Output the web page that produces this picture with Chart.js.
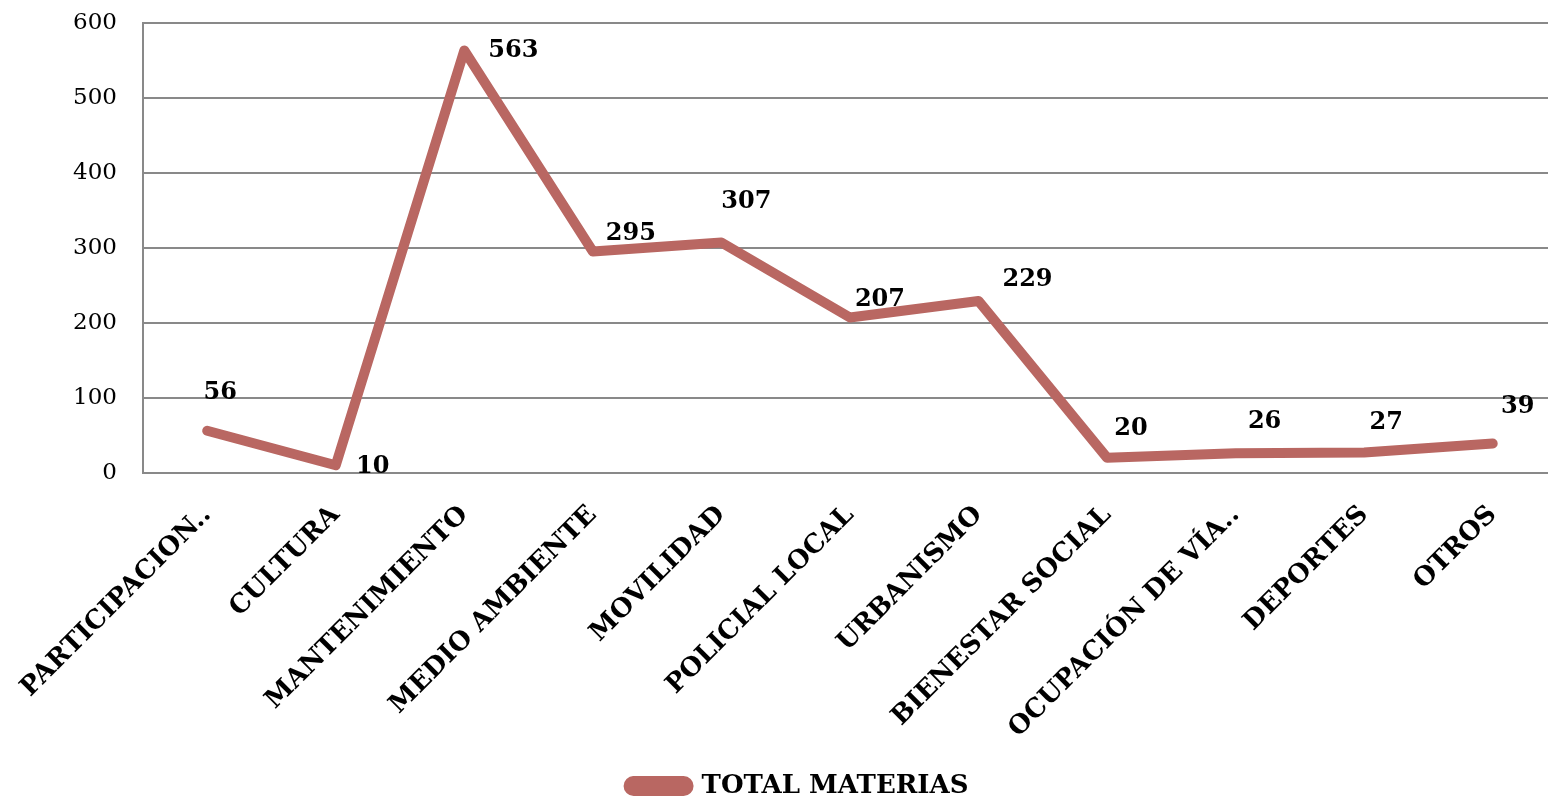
<!DOCTYPE html>
<html>
<head>
<meta charset="utf-8">
<script src="https://cdn.jsdelivr.net/npm/chart.js@4.4.1/dist/chart.umd.min.js"></script>
<style>
    html, body { margin: 0; padding: 0; background: #fff; overflow: hidden; }
    #wrap { position: relative; width: 1548px; height: 799px; overflow: hidden; }
    #materias-chart { position: absolute; left: -8px; top: -17px; }
</style>
</head>
<body>
<div id="wrap"><canvas id="materias-chart" width="1565" height="816"></canvas></div>
<script>
// categorias y valores
const categories = ['PARTICIPACION..', 'CULTURA', 'MANTENIMIENTO', 'MEDIO AMBIENTE', 'MOVILIDAD',
    'POLICIAL LOCAL', 'URBANISMO', 'BIENESTAR SOCIAL', 'OCUPACIÓN DE VÍA..', 'DEPORTES', 'OTROS'];
const totalMaterias = [56, 10, 563, 295, 307, 207, 229, 20, 26, 27, 39];
const yTicks = [0, 100, 200, 300, 400, 500, 600];

// desplazamiento de cada etiqueta respecto a su punto (solo estilo)
const labelNudge = [[13, -38], [37, 1], [49, 0], [38, -18], [25, -41], [30, -18],
    [49, -21], [24, -29], [29, -32], [22, -30], [25, -37]];

const lineColor = '#B96762';
const fontFamily = '"DejaVu Serif", "Liberation Serif", serif';

const valueLabels = {
    id: 'valueLabels',
    afterDatasetsDraw(chart) {
        const ctx = chart.ctx;
        const meta = chart.getDatasetMeta(0);
        ctx.save();
        ctx.font = 'bold 24px ' + fontFamily;
        ctx.fillStyle = '#000';
        ctx.textAlign = 'center';
        ctx.textBaseline = 'middle';
        meta.data.forEach((pt, i) => {
            const n = labelNudge[i] || [25, -30];
            ctx.fillText(String(totalMaterias[i]), pt.x + n[0], pt.y + n[1]);
        });
        ctx.restore();
    }
};

new Chart(document.getElementById('materias-chart').getContext('2d'), {
    type: 'line',
    data: {
        labels: categories,
        datasets: [{
            label: 'TOTAL MATERIAS',
            data: totalMaterias,
            borderColor: lineColor,
            backgroundColor: lineColor,
            borderWidth: 10,
            borderCapStyle: 'round',
            borderJoinStyle: 'round',
            pointRadius: 0,
            tension: 0
        }]
    },
    options: {
        responsive: false,
        animation: false,
        layout: { padding: { left: 48, top: 0, right: 0, bottom: -10 } },
        plugins: {
            legend: {
                position: 'bottom',
                labels: {
                    boxWidth: 60,
                    boxHeight: 10,
                    useBorderRadius: true,
                    borderRadius: 5,
                    padding: 2,
                    color: '#000',
                    font: { family: fontFamily, size: 26, weight: 'bold' }
                }
            },
            tooltip: { enabled: false }
        },
        scales: {
            x: {
                offset: true,
                grid: { display: false, drawTicks: false },
                border: { display: false },
                ticks: {
                    minRotation: 45,
                    maxRotation: 45,
                    autoSkip: false,
                    padding: 27,
                    color: '#000',
                    font: { family: fontFamily, size: 26, weight: 'bold' }
                }
            },
            y: {
                min: 0,
                max: 600,
                afterBuildTicks: axis => { axis.ticks = yTicks.map(v => ({ value: v })); },
                grid: { color: '#898989', lineWidth: 2, drawTicks: false },
                border: { color: '#898989', width: 2 },
                ticks: {
                    padding: 26,
                    color: '#000',
                    font: { family: fontFamily, size: 23 }
                }
            }
        }
    },
    plugins: [valueLabels]
});
</script>
</body>
</html>
